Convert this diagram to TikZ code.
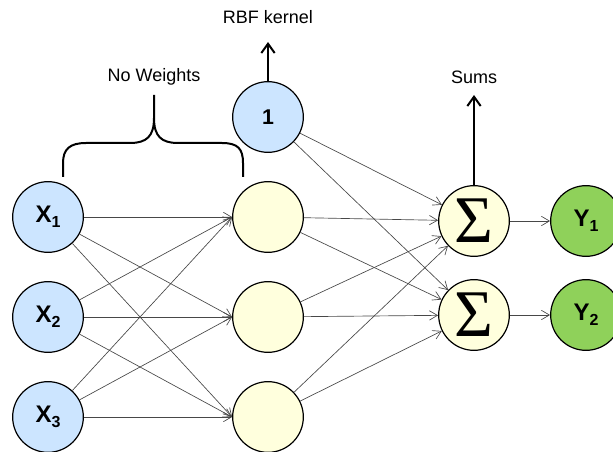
\documentclass[tikz,border=0pt]{standalone}
\usepackage{fontspec}
\setmainfont{Liberation Sans}
\newfontfamily\sigmafont{Liberation Serif}
\usetikzlibrary{arrows.meta}
\definecolor{inblue}{HTML}{CCE5FF}
\definecolor{hidyellow}{HTML}{FFFFDD}
\definecolor{outgreen}{HTML}{8FD15A}
\definecolor{edgegray}{HTML}{484848}
\tikzset{
 neuron/.style={circle,draw,line width=0.9pt,minimum size=53pt,inner sep=0pt,
  font=\fontsize{18}{18}\selectfont\bfseries},
 link/.style={draw=edgegray,line width=0.5pt,-{Straight Barb[length=6pt,width=7pt]}},
 bigarrow/.style={line width=1.5pt,-{Straight Barb[length=7pt,width=10pt]}},
 caption/.style={font=\fontsize{13.5}{15}\selectfont}
}
\newcommand\sub[1]{{\fontsize{12}{12}\selectfont\raisebox{-4pt}{#1}}}
\begin{document}
\begin{tikzpicture}[x=0.75pt,y=-0.75pt]
\useasboundingbox (0,0) rectangle (613,452);
\foreach \i in {1,2,3}{
 \node[neuron,fill=inblue] (x\i) at (48,117+100*\i) {X\sub{\i}};
 \node[neuron,fill=hidyellow] (h\i) at (268,117+100*\i) {};
}
\node[neuron,fill=inblue,font=\fontsize{16}{16}\selectfont\bfseries] (b) at (268,117) {1};
\foreach \i/\y in {1/221,2/315}{
 \node[neuron,fill=hidyellow,font=\fontsize{50}{50}\selectfont\sigmafont] (s\i) at (474,\y) {Σ};
 \node[neuron,fill=outgreen] (y\i) at (586,\y) {Y\sub{\i}};
 \draw[link] (s\i) -- (y\i);
}
\foreach \i in {1,2,3}
 \foreach \j in {1,2,3}
  \draw[link] (x\i) -- (h\j.west);
\foreach \n in {b,h1,h2,h3}
 \foreach \j in {1,2}
  \draw[link] (\n) -- (s\j);
\node[caption] (rbf) at (268,17) {RBF kernel};
\node[caption] (sums) at (474,77) {Sums};
\node[caption] (nw) at (154,77) {No Weights};
\coordinate (rbftip) at (268,42);
\coordinate (sumstip) at (474,95);
\draw[bigarrow] (b) -- (rbftip);
\draw[bigarrow] (s1) -- (sumstip);
\draw[line width=1.5pt] (63,177) -- (63,163) .. controls (63,149) and (70,143) .. (86,143)
 -- (130,143) .. controls (147,143) and (154,136) .. (154,118)
 .. controls (154,136) and (161,143) .. (178,143) -- (222,143)
 .. controls (238,143) and (243,149) .. (243,163) -- (243,177)
 (154,118) -- (154,95);
\end{tikzpicture}
\end{document}
